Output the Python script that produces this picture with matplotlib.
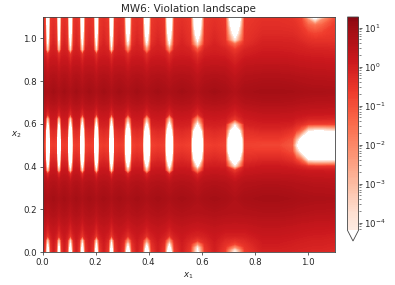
# Import libraries
import matplotlib
matplotlib.use("Agg")
import matplotlib.pyplot as plt
from matplotlib.colors import ListedColormap
import numpy as np

# --- 1. Values (log10 of the violation) ---
x2_rows = [0.00, 0.012, 0.025, 0.04, 0.056, 0.08, 0.12, 0.18, 0.25, 0.32, 0.36,
           0.38, 0.40, 0.43, 0.47, 0.50, 0.53, 0.57, 0.60, 0.625, 0.65, 0.70,
           0.75, 0.82, 0.88, 0.92, 0.945, 0.97, 0.99, 1.02, 1.06, 1.085, 1.10]

# between the stripes
gap = [-0.05, 0.00, 0.02, 0.05, 0.10, 0.18, 0.35, 0.65, 0.90, 0.65, 0.38,
       0.22, 0.05, -0.20, -0.50, -0.65, -0.50, -0.25, -0.02, 0.12, 0.28, 0.65,
       0.92, 0.65, 0.30, 0.08, -0.02, -0.10, -0.17, -0.25, -0.35, -0.40, -0.43]
# shoulder of a stripe
side = [-0.65, -0.60, -0.50, -0.40, -0.25, 0.00, 0.27, 0.60, 0.82, 0.60, 0.32,
        0.17, -0.03, -0.35, -0.63, -0.75, -0.63, -0.40, -0.08, 0.07, 0.22, 0.60,
        0.82, 0.60, 0.30, 0.02, -0.13, -0.35, -0.45, -0.50, -0.55, -0.58, -0.60]
# stripe centres, narrow ones on the left to wide ones on the right
core_a = [-8.4, -7.8, -6.8, -5.6, -4.2, -0.6, -0.1, 0.42, 0.70, 0.42, -0.4,
          -4.2, -6.5, -11.0, -16.0, -17.4, -16.0, -11.0, -6.5, -4.2, -0.4, 0.38,
          0.70, 0.42, -0.05, -0.5, -4.2, -5.5, -6.5, -8.0, -10.0, -11.0, -11.5]
core_b = [-8.4, -7.4, -6.0, -4.5, -2.6, -0.4, 0.05, 0.50, 0.72, 0.47, -0.2,
          -3.5, -5.8, -10.0, -16.0, -17.4, -16.0, -10.0, -5.8, -3.4, -0.3, 0.42,
          0.72, 0.47, 0.0, -0.4, -2.5, -4.6, -5.8, -7.5, -9.5, -10.5, -11.0]
core_c = [-5.3, -4.8, -4.2, -2.2, -0.6, -0.1, 0.22, 0.57, 0.70, 0.42, -0.2,
          -2.2, -5.0, -10.0, -16.0, -17.4, -16.0, -10.0, -5.0, -2.5, -0.3, 0.37,
          0.65, 0.39, 0.0, -0.4, -1.2, -3.6, -5.0, -6.8, -9.0, -10.0, -10.5]
core_d = [-4.8, -4.1, -2.2, -0.8, -0.4, 0.0, 0.27, 0.57, 0.67, 0.42, -0.1,
          -0.6, -4.2, -8.5, -16.0, -17.4, -16.0, -8.5, -4.2, -0.6, -0.1, 0.37,
          0.62, 0.37, 0.0, -0.3, -0.6, -1.5, -4.2, -6.0, -8.5, -10.0, -10.5]
# right hand part, towards the big white blob
flat = [-0.08, -0.03, 0.02, 0.07, 0.12, 0.22, 0.37, 0.65, 0.90, 0.65, 0.39,
        0.25, 0.12, -0.20, -0.60, -0.85, -0.60, -0.22, 0.02, 0.19, 0.35, 0.67,
        0.90, 0.65, 0.35, 0.15, 0.05, -0.05, -0.13, -0.25, -0.35, -0.40, -0.45]
blob_a = [-0.13, -0.08, -0.03, 0.02, 0.07, 0.17, 0.32, 0.62, 0.85, 0.62, 0.37,
          0.22, 0.02, -0.40, -0.95, -1.20, -0.95, -0.45, -0.03, 0.17, 0.32, 0.65,
          0.87, 0.62, 0.32, 0.12, 0.02, -0.08, -0.15, -0.27, -0.40, -0.45, -0.50]
blob_b = [-0.15, -0.11, -0.05, -0.01, 0.05, 0.15, 0.30, 0.59, 0.82, 0.59, 0.35,
          0.19, -0.05, -0.75, -2.80, -4.20, -2.80, -0.75, -0.25, 0.07, 0.27, 0.62,
          0.85, 0.59, 0.29, 0.09, -0.01, -0.11, -0.19, -0.33, -0.45, -0.55, -0.60]
blob_c = [-0.18, -0.13, -0.08, -0.03, 0.02, 0.12, 0.27, 0.57, 0.79, 0.57, 0.32,
          0.15, -0.20, -1.50, -5.20, -6.50, -5.20, -1.50, -0.35, 0.02, 0.25, 0.59,
          0.82, 0.57, 0.27, 0.07, -0.03, -0.15, -0.28, -0.45, -0.65, -0.75, -0.85]
blob_d = [-0.21, -0.15, -0.11, -0.05, -0.01, 0.09, 0.25, 0.55, 0.77, 0.55, 0.29,
          0.09, -0.45, -4.20, -7.00, -8.00, -7.50, -4.00, -0.65, -0.10, 0.22, 0.57,
          0.79, 0.55, 0.25, 0.05, -0.08, -0.25, -0.40, -0.65, -1.30, -2.10, -4.20]
blob_e = [-0.23, -0.18, -0.13, -0.08, -0.03, 0.07, 0.22, 0.52, 0.75, 0.52, 0.27,
          0.07, -0.50, -4.60, -7.00, -8.00, -7.50, -4.40, -0.70, -0.13, 0.19, 0.55,
          0.77, 0.52, 0.22, 0.02, -0.11, -0.30, -0.45, -0.80, -1.60, -4.20, -5.50]
blob_f = [-0.23, -0.18, -0.13, -0.08, -0.03, 0.07, 0.22, 0.52, 0.75, 0.52, 0.27,
          0.07, -0.50, -4.60, -7.00, -8.00, -7.50, -4.40, -0.70, -0.13, 0.19, 0.55,
          0.77, 0.52, 0.22, 0.02, -0.11, -0.30, -0.45, -0.70, -1.30, -2.10, -4.20]
blob_g = [-0.30, -0.23, -0.18, -0.13, -0.08, 0.02, 0.19, 0.49, 0.72, 0.49, 0.25,
          0.05, -0.50, -4.40, -7.00, -8.00, -7.50, -3.90, -0.70, -0.15, 0.17, 0.52,
          0.75, 0.49, 0.19, -0.01, -0.15, -0.30, -0.45, -0.55, -0.65, -0.85, -1.05]

x1_cols = [0.0, 0.009, 0.02, 0.031, 0.0415, 0.052, 0.062, 0.072, 0.0825,
           0.093, 0.105, 0.117, 0.1275, 0.138, 0.15, 0.162, 0.1765,
           0.191, 0.203, 0.215, 0.231, 0.2475, 0.26, 0.2725, 0.289,
           0.306, 0.322, 0.338, 0.3565, 0.3755, 0.393, 0.4105, 0.4345,
           0.459, 0.478, 0.497, 0.5255, 0.5565, 0.584, 0.6115, 0.648,
           0.6875, 0.725, 0.7625, 0.83, 0.89,
           0.94, 0.955, 0.975, 1.0, 1.027, 1.053, 1.1]
col_values = [gap, side, core_a, side, gap, side, core_a, side, gap,
              side, core_a, side, gap, side, core_a, side, gap,
              side, core_a, side, gap, side, core_a, side, gap,
              side, core_b, side, gap, side, core_b, side, gap,
              side, core_b, side, gap, side, core_c, side, gap,
              side, core_d, side, flat, flat,
              blob_a, blob_b, blob_c, blob_d, blob_e, blob_f, blob_g]

x1_ticks = [0.0, 0.2, 0.4, 0.6, 0.8, 1.0]
x2_ticks = [0.0, 0.2, 0.4, 0.6, 0.8, 1.0]
decades = [-4, -3, -2, -1, 0, 1]

# --- 2. Setup ---
log_violation = np.array(col_values).T
log_min = -4.2
log_max = 1.27
levels = np.linspace(log_min, log_max, 120)

# Reds without its palest and darkest ends
cmap = ListedColormap(plt.get_cmap("Reds")(np.linspace(0.06, 0.93, 256)))
cmap.set_under("white")

plt.rcParams.update({
    'text.color': '#262626',
    'axes.labelcolor': '#262626',
    'xtick.color': '#262626',
    'ytick.color': '#262626',
    'axes.edgecolor': '#444444',
})

fig = plt.figure(figsize=(3.95, 2.85), dpi=100)
ax = fig.add_axes([42.5 / 395, 1 - 252 / 285, 292 / 395, 235 / 285])
cax = fig.add_axes([347.5 / 395, 1 - 241 / 285, 11 / 395, 224 / 285])

# --- 3. Plot ---
# contour in log10 so the white lenses keep their width
cs = ax.contourf(x1_cols, x2_rows, log_violation, levels=levels, cmap=cmap,
                 vmin=log_min, vmax=log_max, extend="min")
cb = fig.colorbar(cs, cax=cax)
cb.set_ticks(decades, labels=["$\\mathdefault{10^{%d}}$" % d for d in decades])
minor = [d + np.log10(m) for d in range(-5, 2) for m in range(2, 10)]
cb.ax.set_yticks([m for m in minor if log_min <= m <= log_max], minor=True)
cb.ax.tick_params(labelsize=6.2, width=0.5, length=2.2, pad=2)
cb.ax.tick_params(which="minor", width=0.4, length=1.2)
cb.outline.set_linewidth(0.6)

# --- 4. Labels ---
ax.set_xlim(0, 1.1)
ax.set_ylim(0, 1.1)
ax.set_xticks(x1_ticks)
ax.set_yticks(x2_ticks)
ax.tick_params(labelsize=6.2, width=0.5, length=2.2, pad=2)
for spine in ax.spines.values():
    spine.set_linewidth(0.6)
ax.set_title("MW6: Violation landscape", fontsize=7.5, pad=3.5)
ax.set_xlabel("$x_1$", fontsize=6.2, labelpad=2.5)
ax.set_ylabel("$x_2$", fontsize=6.2, labelpad=5, rotation=0, va="center")

plt.savefig("out.png", dpi=100)
